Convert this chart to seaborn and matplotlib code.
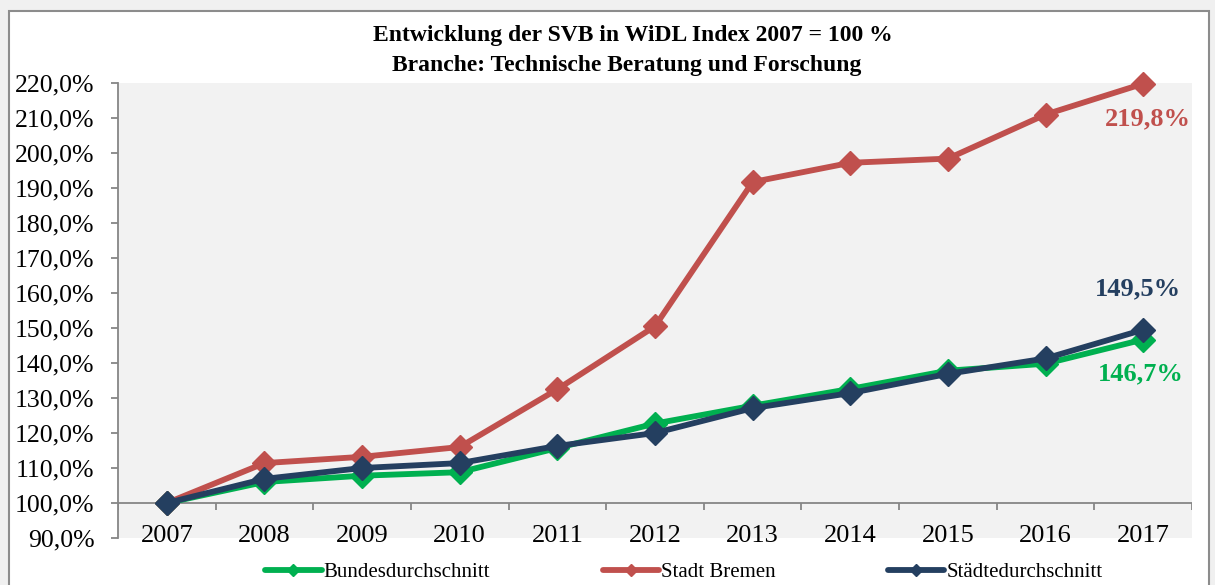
import matplotlib
matplotlib.use('Agg')
import matplotlib.pyplot as plt
import seaborn as sns
import numpy as np
from matplotlib.ticker import FuncFormatter
from matplotlib.lines import Line2D
from matplotlib.patches import Rectangle

years = ['2007', '2008', '2009', '2010', '2011', '2012', '2013', '2014', '2015', '2016', '2017']
bundes = [100.0, 106.0, 107.8, 108.8, 115.7, 122.7, 127.8, 132.6, 137.8, 139.8, 146.7]
bremen = [100.0, 111.4, 113.2, 116.0, 132.5, 150.5, 191.7, 197.2, 198.4, 211.0, 219.8]
staedte = [100.0, 106.9, 110.0, 111.4, 116.3, 120.0, 127.1, 131.4, 136.9, 141.3, 149.5]
series_names = ['Bundesdurchschnitt', 'Stadt Bremen', 'Städtedurchschnitt']
colors = ['#00B050', '#C0504D', '#243F60']
end_labels = ['146,7%', '219,8%', '149,5%']
title1 = 'Entwicklung der SVB in WiDL Index 2007 = 100 %'
title2 = 'Branche: Technische Beratung und Forschung'

sns.set_theme(style='white')
plt.rcParams['font.family'] = ['Liberation Serif', 'DejaVu Serif']
plt.rcParams['text.color'] = 'black'

W, H = 1215, 585
fig = plt.figure(figsize=(W / 100, H / 100), dpi=100, facecolor='#f0f0f0')
fig.patches.append(Rectangle((9 / W, -0.02), 1200 / W, 1.02 - 11 / H,
                             transform=fig.transFigure, facecolor='white',
                             edgecolor='#8c8c8c', lw=1.5, zorder=-10))

ax = fig.add_axes([118 / W, 1 - 538 / H, (1192 - 118) / W, (538 - 83) / H])
ax.set_facecolor('#f2f2f2')

x = np.arange(len(years))
all_series = [bundes, bremen, staedte]
for vals, c, name in zip(all_series, colors, series_names):
    sns.lineplot(x=x, y=vals, color=c, marker='D', markersize=12.5,
                 markeredgecolor=c, markeredgewidth=1, linewidth=4.2,
                 ax=ax, label=name, legend=False, clip_on=False)

ax.set_xlim(-0.5, len(years) - 0.5)
ax.set_ylim(90, 220)
ax.set_yticks(np.arange(90, 221, 10))
ax.yaxis.set_major_formatter(FuncFormatter(lambda v, p: f'{v:.1f}'.replace('.', ',') + '%'))
ax.set_xticks(x)
ax.set_xticklabels(years)
ax.set_xlabel('')
ax.set_ylabel('')

for s in ['top', 'right', 'bottom']:
    ax.spines[s].set_visible(False)
ax.spines['left'].set_color('#868686')
ax.spines['left'].set_linewidth(1.3)

ax.tick_params(axis='y', which='major', direction='out', length=5, width=1.3,
               color='#868686', labelsize=18.5, pad=12, left=True, labelcolor='black')
ax.tick_params(axis='x', which='major', length=0, labelsize=19, pad=-9, labelcolor='black')

ax.axhline(100, color='#868686', lw=1.3, zorder=1.5)
ax.vlines(np.arange(-0.5, len(years), 1.0), 98, 100, color='#868686', lw=1.3, zorder=1.5)

offsets = [(-1.5, -24.5), (3.5, -25), (-3.5, 29.5)]
for vals, c, lab, off in zip(all_series, colors, end_labels, offsets):
    ax.annotate(lab, xy=(x[-1], vals[-1]), xytext=off, textcoords='offset points',
                ha='center', va='center', color=c, fontsize=19, fontweight='bold')

fig.text(633 / W, 1 - 35 / H, title1, ha='center', va='center', fontsize=17,
         fontweight='bold', color='black')
fig.text(627 / W, 1 - 65 / H, title2, ha='center', va='center', fontsize=17,
         fontweight='bold', color='black')

handles = [Line2D([], [], color=c, lw=4.2, marker='D', ms=6, markeredgecolor=c) for c in colors]
leg = fig.legend(handles, series_names, loc='center', bbox_to_anchor=(684 / W, 1 - 572 / H),
                 ncol=3, frameon=False, fontsize=15, handlelength=2.7, columnspacing=5.4,
                 handletextpad=0.1)
for t in leg.get_texts():
    t.set_color('black')

fig.savefig('out.png', dpi=100, facecolor=fig.get_facecolor())
